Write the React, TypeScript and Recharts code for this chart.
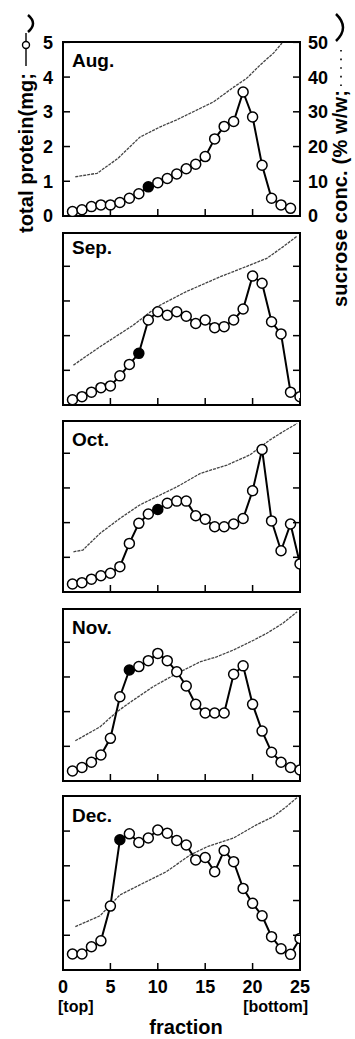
import React from 'react'
import { ComposedChart, Line, XAxis, YAxis, ReferenceArea } from 'recharts'

const FONT = '"Liberation Sans", Arial, Helvetica, sans-serif'

// fraction numbers (x) and axis ticks
const fractions = [1, 2, 3, 4, 5, 6, 7, 8, 9, 10, 11, 12, 13, 14, 15, 16, 17, 18, 19, 20, 21, 22, 23, 24, 25]
const fractionTicks = [0, 5, 10, 15, 20, 25]
const proteinTicks = [0, 1, 2, 3, 4, 5]
const sucroseTicks = [0, 10, 20, 30, 40, 50]
const innerProteinTicks = [1, 2, 3, 4]
const innerSucroseTicks = [10, 20, 30, 40]

// total protein (mg) per fraction
const augProtein = [0.13, 0.18, 0.27, 0.32, 0.32, 0.39, 0.51, 0.64, 0.84, 0.96, 1.08, 1.21, 1.36, 1.49, 1.71, 2.22, 2.58, 2.72, 3.57, 2.85, 1.46, 0.51, 0.32, 0.22]
const sepProtein = [0.15, 0.24, 0.37, 0.5, 0.55, 0.84, 1.17, 1.49, 2.45, 2.69, 2.59, 2.69, 2.56, 2.35, 2.45, 2.23, 2.26, 2.45, 2.77, 3.72, 3.51, 2.4, 2.05, 0.37, 0.24]
const octProtein = [0.23, 0.27, 0.37, 0.47, 0.54, 0.73, 1.4, 1.98, 2.25, 2.38, 2.56, 2.62, 2.62, 2.2, 2.1, 1.88, 1.88, 1.96, 2.12, 2.92, 4.11, 2.05, 1.19, 1.96, 0.81]
const novProtein = [0.29, 0.39, 0.54, 0.75, 1.23, 2.43, 3.2, 3.3, 3.47, 3.68, 3.47, 3.15, 2.74, 2.21, 1.96, 1.96, 1.96, 3.08, 3.32, 2.21, 1.44, 0.83, 0.54, 0.39, 0.32]
const decProtein = [0.46, 0.46, 0.67, 0.84, 1.84, 3.75, 3.92, 3.67, 3.8, 4.03, 3.94, 3.73, 3.6, 3.17, 3.24, 2.83, 3.44, 3.12, 2.35, 1.92, 1.56, 0.96, 0.61, 0.45, 0.91]

// sucrose concentration (% w/w) along the gradient
const augSucroseFrac = [1.3, 3.6, 5.8, 8.1, 10.2, 12, 13.8, 15.9, 18, 19.4, 20.8, 22.2, 23.1]
const augSucrose = [11.3, 12.3, 16.6, 22.7, 25.6, 27.7, 30.1, 32.9, 37.1, 39.7, 43.5, 46.9, 49.8]
const sepSucroseFrac = [1.1, 3.9, 7.4, 9.9, 13, 16.6, 19.4, 21.5, 23.2, 24.7]
const sepSucrose = [11.5, 16.8, 23, 28.3, 32.7, 37, 40, 42.3, 45.6, 48.7]
const octSucroseFrac = [1.1, 2.1, 3.9, 6, 8.1, 9.9, 12, 14.5, 17.3, 19.7, 21.8, 23.2, 24.7]
const octSucrose = [11.6, 12.1, 16.9, 21.2, 25.1, 27.5, 30.3, 34.2, 36.6, 39.5, 43.8, 46.2, 48.6]
const novSucroseFrac = [1.3, 3.9, 5.7, 7.4, 9.5, 12, 14.5, 16.2, 18, 20.1, 21.5, 23.2, 24.7]
const novSucrose = [11.6, 15.6, 20, 23.3, 27.2, 31, 34.4, 35.8, 37.8, 40.6, 42.6, 45.5, 48.8]
const decSucroseFrac = [1.3, 3.9, 6, 8.1, 10.9, 13.4, 15.2, 18, 20.4, 22.2, 23.6, 24.8]
const decSucrose = [12.5, 15.6, 21.6, 24.5, 28.3, 33.1, 35.5, 38, 41.8, 44.2, 47.1, 49.9]

const panels = [
  { label: 'Aug.', protein: augProtein, filled: 8, sf: augSucroseFrac, s: augSucrose, top: 42, bottom: 216, labelTop: 51 },
  { label: 'Sep.', protein: sepProtein, filled: 7, sf: sepSucroseFrac, s: sepSucrose, top: 233, bottom: 405, labelTop: 238 },
  { label: 'Oct.', protein: octProtein, filled: 9, sf: octSucroseFrac, s: octSucrose, top: 421, bottom: 592, labelTop: 430 },
  { label: 'Nov.', protein: novProtein, filled: 6, sf: novSucroseFrac, s: novSucrose, top: 609, bottom: 781, labelTop: 618 },
  { label: 'Dec.', protein: decProtein, filled: 5, sf: decSucroseFrac, s: decSucrose, top: 796, bottom: 970, labelTop: 806 },
]

const UNIT = 34.7 // px per mg on the protein axis
const TICK = 7
const MARGIN = 10

const textProps = { fill: '#000', fontSize: 18, fontWeight: 700, fontFamily: FONT }

// inward tick marks, with or without a label
const leftTick = (show: boolean) => (props: any) => {
  const { x, y, payload, index } = props
  const ax = x + MARGIN
  return (
    <g key={`l-${index}`}>
      <line x1={ax} x2={ax + TICK} y1={y} y2={y} stroke="#000" strokeWidth={1.5} />
      {show && (
        <text x={x} y={y} dy="0.36em" textAnchor="end" {...textProps}>
          {payload.value}
        </text>
      )}
    </g>
  )
}

const rightTick = (show: boolean) => (props: any) => {
  const { x, y, payload, index } = props
  const ax = x - MARGIN
  return (
    <g key={`r-${index}`}>
      <line x1={ax} x2={ax - TICK} y1={y} y2={y} stroke="#000" strokeWidth={1.5} />
      {show && (
        <text x={x - 2} y={y} dy="0.36em" textAnchor="start" {...textProps}>
          {payload.value}
        </text>
      )}
    </g>
  )
}

const bottomTick = (show: boolean) => (props: any) => {
  const { x, y, payload, index } = props
  const ay = y - MARGIN
  return (
    <g key={`b-${index}`}>
      <line x1={x} x2={x} y1={ay} y2={ay - TICK} stroke="#000" strokeWidth={1.5} />
      {show && (
        <text x={x} y={y} dy="0.74em" textAnchor="middle" {...textProps}>
          {payload.value}
        </text>
      )}
    </g>
  )
}

function Panel({ p, first, last }: { p: any; first: boolean; last: boolean }) {
  const mt = 12
  const frameH = p.bottom - p.top
  const yMax = Math.round((frameH / UNIT) * 100) / 100
  const xh = last ? 30 : 14
  const proteinData = p.protein.map((v: number, i: number) => ({ f: fractions[i], v }))
  const sucroseData = p.sf.map((f: number, i: number) => ({ f, s: p.s[i] }))

  const dot = (props: any) => {
    const { cx, cy, index } = props
    return (
      <circle
        key={`d-${index}`}
        cx={cx}
        cy={cy}
        r={5}
        fill={index === p.filled ? '#000' : '#fff'}
        stroke="#000"
        strokeWidth={1.5}
      />
    )
  }

  return (
    <div style={{ position: 'absolute', left: 0, top: p.top - mt }}>
      <ComposedChart width={355} height={frameH + mt + xh} margin={{ top: mt, right: 0, bottom: 0, left: 0 }}>
        <XAxis
          type="number"
          dataKey="f"
          domain={[0, 25]}
          ticks={fractionTicks}
          interval={0}
          allowDataOverflow
          height={xh}
          axisLine={false}
          tickSize={0}
          tickMargin={MARGIN}
          tickLine={false}
          tick={bottomTick(last)}
        />
        <YAxis
          yAxisId="p"
          type="number"
          domain={[0, yMax]}
          ticks={first ? proteinTicks : innerProteinTicks}
          interval={0}
          allowDataOverflow
          width={63}
          axisLine={false}
          tickSize={0}
          tickMargin={MARGIN}
          tickLine={false}
          tick={leftTick(first)}
        />
        <YAxis
          yAxisId="s"
          orientation="right"
          type="number"
          domain={[0, yMax * 10]}
          ticks={first ? sucroseTicks : innerSucroseTicks}
          interval={0}
          allowDataOverflow
          width={55}
          axisLine={false}
          tickSize={0}
          tickMargin={MARGIN}
          tickLine={false}
          tick={rightTick(first)}
        />
        <ReferenceArea yAxisId="p" x1={0} x2={25} y1={0} y2={yMax} fill="none" stroke="#000" strokeWidth={2} />
        <Line
          yAxisId="s"
          data={sucroseData}
          dataKey="s"
          type="linear"
          stroke="#444"
          strokeWidth={1.3}
          strokeDasharray="3 1"
          dot={false}
          isAnimationActive={false}
        />
        <Line
          yAxisId="p"
          data={proteinData}
          dataKey="v"
          type="linear"
          stroke="#000"
          strokeWidth={2}
          dot={dot}
          isAnimationActive={false}
        />
      </ComposedChart>
      <div
        style={{
          position: 'absolute',
          left: 72,
          top: p.labelTop - p.top + mt,
          fontFamily: FONT,
          fontWeight: 700,
          fontSize: 19,
          lineHeight: '19px',
        }}
      >
        {p.label}
      </div>
    </div>
  )
}

const titleProps = { fill: '#000', fontSize: 20, fontWeight: 700, fontFamily: FONT }

function AxisTitles() {
  return (
    <svg width={355} height={1039} style={{ position: 'absolute', left: 0, top: 0, pointerEvents: 'none' }}>
      {/* left: total protein (mg; —o—) */}
      <text transform="translate(33 233) rotate(-90)" textLength={160} lengthAdjust="spacing" {...titleProps}>
        total protein(mg;
      </text>
      <line x1={26} y1={33} x2={26} y2={66} stroke="#000" strokeWidth={1.4} />
      <circle cx={26} cy={45} r={3.5} fill="#fff" stroke="#000" strokeWidth={1.4} />
      <path d="M 28 15 Q 38 23.5 28 32" fill="none" stroke="#000" strokeWidth={2.5} />
      {/* right: sucrose conc. (% w/w; ·····) */}
      <text transform="translate(347 307) rotate(-90)" textLength={217} lengthAdjust="spacing" {...titleProps}>
        sucrose conc. (% w/w;
      </text>
      <line x1={341} y1={86} x2={341} y2={50} stroke="#000" strokeWidth={1.6} strokeDasharray="1.6 7" />
      <path d="M 336 14 Q 350 27.5 336 41" fill="none" stroke="#000" strokeWidth={2.5} />
      {/* bottom labels */}
      <text x={58} y={1012} fontSize={16} fontWeight={700} fontFamily={FONT} fill="#000">
        [top]
      </text>
      <text x={308} y={1012} textAnchor="end" fontSize={16} fontWeight={700} fontFamily={FONT} fill="#000">
        [bottom]
      </text>
      <text x={186} y={1034} textAnchor="middle" fontSize={20} fontWeight={700} fontFamily={FONT} fill="#000">
        fraction
      </text>
    </svg>
  )
}

export default function App() {
  return (
    <div style={{ position: 'absolute', left: 0, top: 0, width: 355, height: 1039, background: '#fff' }}>
      {panels.map((p, i) => (
        <Panel key={p.label} p={p} first={i === 0} last={i === panels.length - 1} />
      ))}
      <AxisTitles />
    </div>
  )
}
